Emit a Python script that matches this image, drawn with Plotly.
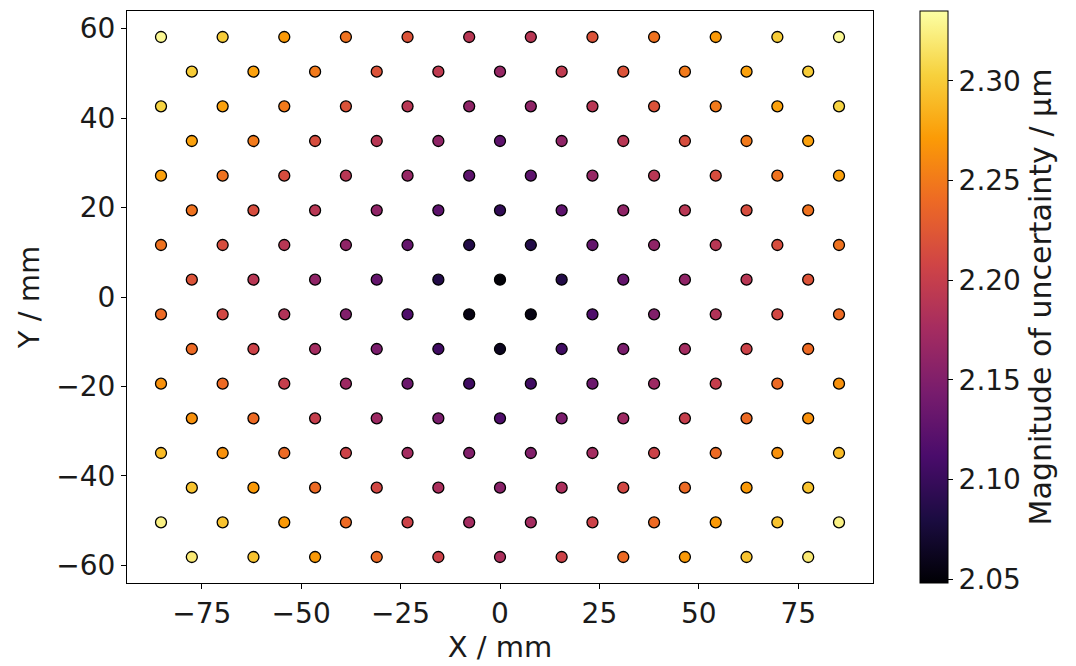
import plotly.graph_objects as go

# Grid positions (mm)
X_A = [-85.25, -69.75, -54.25, -38.75, -23.25, -7.75, 7.75, 23.25, 38.75, 54.25, 69.75, 85.25]
X_B = [-77.5, -62.0, -46.5, -31.0, -15.5, 0.0, 15.5, 31.0, 46.5, 62.0, 77.5]
Y_ROWS = [58.125, 50.375, 42.625, 34.875, 27.125, 19.375, 11.625, 3.875,
          -3.875, -11.625, -19.375, -27.125, -34.875, -42.625, -50.375, -58.125]
ROW_TYPES = ["A", "B", "A", "B", "A", "B", "A", "B",
             "A", "B", "A", "B", "A", "B", "A", "B"]

# Magnitude of uncertainty (um)
U_ROWS = [
    [2.330, 2.300, 2.270, 2.245, 2.220, 2.190, 2.190, 2.220, 2.245, 2.270, 2.300, 2.330],
    [2.300, 2.275, 2.250, 2.220, 2.195, 2.165, 2.195, 2.220, 2.250, 2.275, 2.300],
    [2.305, 2.275, 2.250, 2.220, 2.190, 2.160, 2.160, 2.190, 2.220, 2.250, 2.275, 2.305],
    [2.275, 2.250, 2.215, 2.190, 2.160, 2.125, 2.160, 2.190, 2.215, 2.250, 2.275],
    [2.275, 2.245, 2.215, 2.190, 2.165, 2.125, 2.125, 2.165, 2.190, 2.215, 2.245, 2.275],
    [2.245, 2.215, 2.190, 2.160, 2.125, 2.095, 2.125, 2.160, 2.190, 2.215, 2.245],
    [2.245, 2.215, 2.190, 2.160, 2.130, 2.085, 2.085, 2.130, 2.160, 2.190, 2.215, 2.245],
    [2.220, 2.190, 2.160, 2.130, 2.085, 2.050, 2.085, 2.130, 2.160, 2.190, 2.220],
    [2.240, 2.210, 2.185, 2.150, 2.115, 2.056, 2.056, 2.115, 2.150, 2.185, 2.210, 2.240],
    [2.240, 2.205, 2.175, 2.145, 2.105, 2.062, 2.105, 2.145, 2.175, 2.205, 2.240],
    [2.265, 2.240, 2.200, 2.170, 2.135, 2.105, 2.105, 2.135, 2.170, 2.200, 2.240, 2.265],
    [2.265, 2.240, 2.200, 2.170, 2.145, 2.115, 2.145, 2.170, 2.200, 2.240, 2.265],
    [2.290, 2.265, 2.240, 2.205, 2.175, 2.150, 2.150, 2.175, 2.205, 2.240, 2.265, 2.290],
    [2.295, 2.270, 2.240, 2.210, 2.180, 2.155, 2.180, 2.210, 2.240, 2.270, 2.295],
    [2.325, 2.295, 2.270, 2.240, 2.205, 2.175, 2.175, 2.205, 2.240, 2.270, 2.295, 2.325],
    [2.320, 2.295, 2.270, 2.240, 2.205, 2.180, 2.205, 2.240, 2.270, 2.295, 2.320],
]

X_TICKS = [-75, -50, -25, 0, 25, 50, 75]
Y_TICKS = [-60, -40, -20, 0, 20, 40, 60]
C_TICKS = [2.05, 2.10, 2.15, 2.20, 2.25, 2.30]
C_MIN, C_MAX = 2.048, 2.335

xs, ys, us = [], [], []
for yv, rt, row in zip(Y_ROWS, ROW_TYPES, U_ROWS):
    xrow = X_A if rt == "A" else X_B
    for xv, uv in zip(xrow, row):
        xs.append(xv)
        ys.append(yv)
        us.append(uv)

FONT = "DejaVu Sans"
FS_TICK = 28
FS_LAB = 29
FS_CBT = 30
TXT = "#1a1a1a"

fig = go.Figure(go.Scatter(
    x=xs, y=ys, mode="markers",
    marker=dict(
        size=11, color=us, colorscale="Inferno", cmin=C_MIN, cmax=C_MAX,
        line=dict(color="black", width=1.3),
        colorbar=dict(
            x=1.0625, xanchor="left", y=0.5, yanchor="middle",
            len=1.0, lenmode="fraction", thickness=28,
            xpad=0, ypad=0,
            outlinecolor="black", outlinewidth=1,
            tickvals=C_TICKS, ticktext=[f"{v:.2f}" for v in C_TICKS],
            ticks="outside", ticklen=5, tickcolor="black",
            tickfont=dict(family=FONT, size=FS_TICK, color=TXT),
            title=dict(text="Magnitude of uncertainty / μm", side="right",
                       font=dict(family=FONT, size=FS_CBT, color=TXT)),
        ),
    ),
    showlegend=False,
))

axis_common = dict(
    showgrid=False, zeroline=False, showline=True, mirror=True,
    linecolor="black", linewidth=1, ticks="outside", ticklen=5,
    tickcolor="black", tickfont=dict(family=FONT, size=FS_TICK, color=TXT),
)

# page body adds an 8 px offset; the figure is sized to fit the window
fig.update_layout(
    width=1068, height=658,
    margin=dict(l=119, r=203, t=3, b=83),
    paper_bgcolor="white", plot_bgcolor="white",
    font=dict(family=FONT, size=FS_TICK, color=TXT),
    xaxis=dict(range=[-93.8, 93.8], tickvals=X_TICKS,
               title=dict(text="X / mm", standoff=2,
                          font=dict(family=FONT, size=FS_LAB, color=TXT)),
               **axis_common),
    yaxis=dict(range=[-63.94, 63.94], tickvals=Y_TICKS,
               title=dict(text="Y / mm", standoff=8,
                          font=dict(family=FONT, size=FS_LAB, color=TXT)),
               **axis_common),
)

fig.write_html("out.html")
